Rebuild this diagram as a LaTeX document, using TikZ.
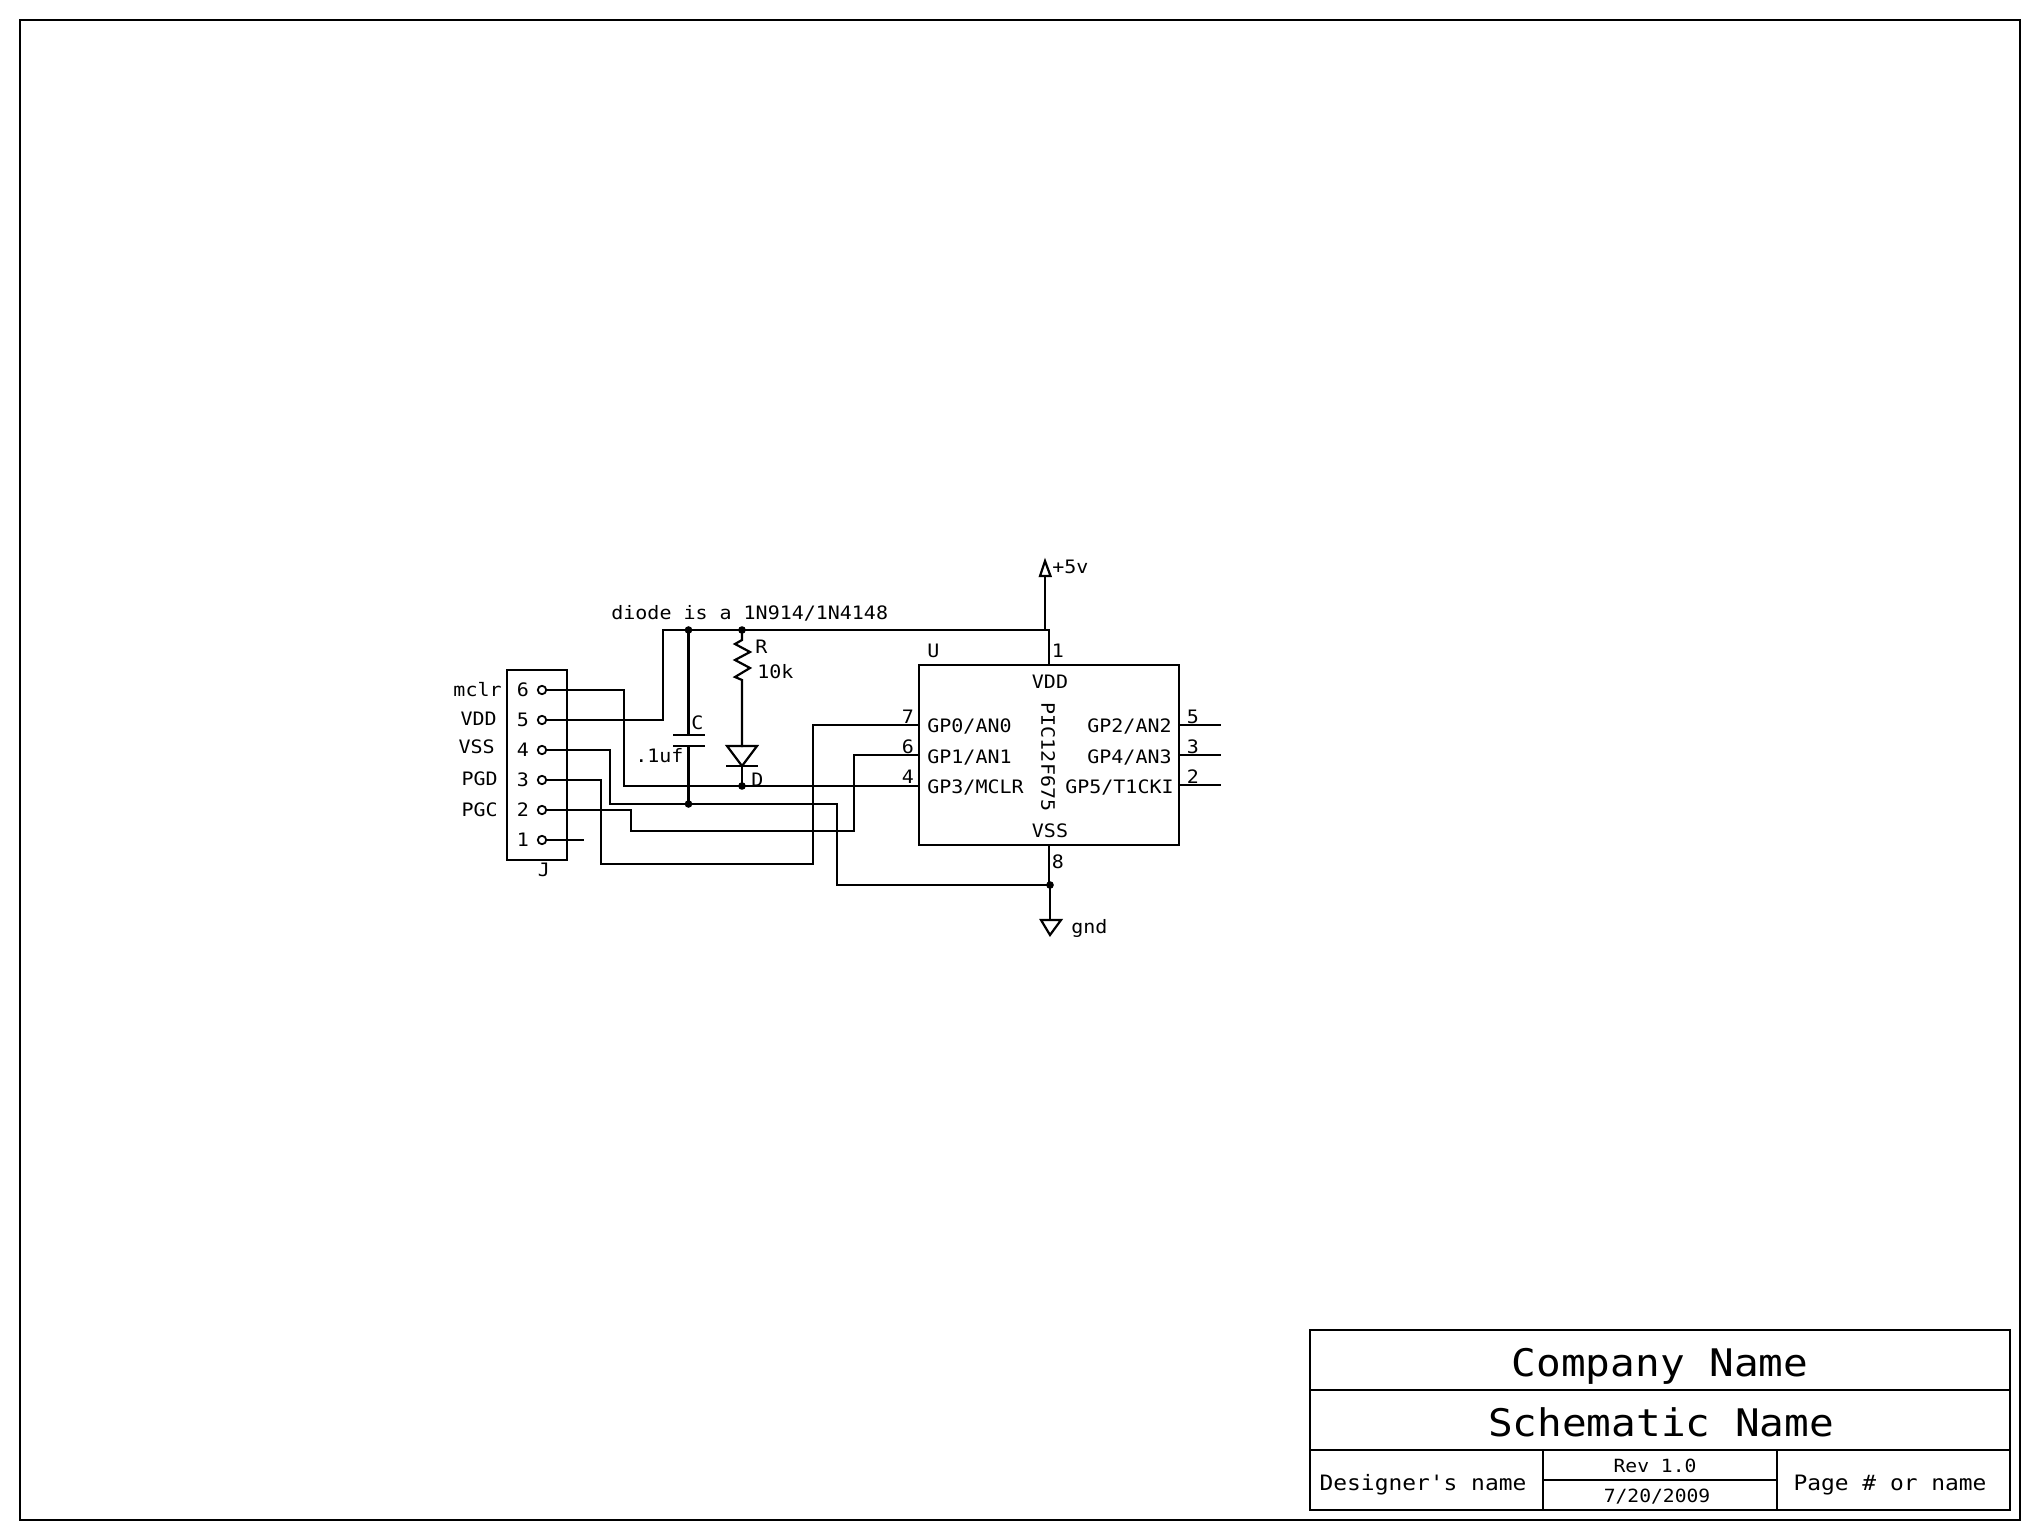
\documentclass[tikz,border=0pt]{standalone}
\usepackage{fontspec}
\setmainfont[FakeStretch=1.08]{DejaVu Sans Mono}
\newfontfamily\plainmono[FakeStretch=1.08]{DejaVu Sans Mono}
\tikzset{
  wire/.style={line width=1.1pt,line cap=rect,line join=miter},
  box/.style={draw,line width=1.1pt,inner sep=0pt,rectangle},
  frame/.style={draw,line width=1.15pt},
  pad/.style={circle,draw,line width=0.9pt,minimum size=4.2pt,inner sep=0pt},
  dotj/.style={circle,fill=black,minimum size=3.8pt,inner sep=0pt},
  txt/.style={inner sep=0pt,font=\fontsize{9.25}{12}\selectfont,anchor=base west},
  txtr/.style={txt,anchor=base east},
  txtc/.style={txt,anchor=base},
  small/.style={inner sep=0pt,font=\fontsize{9.1}{12}\selectfont,anchor=base},
  med/.style={inner sep=0pt,font=\fontsize{10.6}{14}\selectfont,anchor=base},
  big/.style={inner sep=0pt,font=\fontsize{19}{24}\selectfont,anchor=base},
}
\begin{document}
\begin{tikzpicture}[x=0.5pt,y=-0.5pt]
\useasboundingbox (0,0) rectangle (2040,1540);
% sheet frame
\draw[frame] (20,20) rectangle (2020,1520);
% title block
\draw[frame] (1310,1330) rectangle (2010,1510);
\coordinate (tL1) at (1310,1390); \coordinate (tR1) at (2010,1390);
\coordinate (tL2) at (1310,1450); \coordinate (tR2) at (2010,1450);
\coordinate (tA) at (1543,1450); \coordinate (tAb) at (1543,1510);
\coordinate (tB) at (1777,1450); \coordinate (tBb) at (1777,1510);
\coordinate (tMa) at (1543,1480); \coordinate (tMb) at (1777,1480);
\draw[frame] (tL1) -- (tR1);
\draw[frame] (tL2) -- (tR2);
\draw[frame] (tA) -- (tAb);
\draw[frame] (tB) -- (tBb);
\draw[frame] (tMa) -- (tMb);
\node[big] (company) at (1660,1376) {Company Name};
\node[big] (schem) at (1661,1436) {Schematic Name};
\node[med] (designer) at (1423,1490) {\plainmono Designer's name};
\node[med] (pagename) at (1890,1490) {Page \# or name};
\node[small] (rev) at (1655,1472) {Rev 1.0};
\node[small] (date) at (1657,1502) {7/20/2009};

% header J
\node[box,minimum width=30pt,minimum height=95pt] (J) at (537,765) {};
\node[txtc] (Jn) at (544,876) {J};
\foreach \n/\y/\b in {6/690/696,5/720/726,4/750/756,3/780/786,2/810/816,1/840/846}{
  \node[pad] (p\n) at (542,\y) {};
  \node[txtc] (pn\n) at (523,\b) {\n};
}
\node[txtr] (l6) at (502,696) {mclr};
\node[txtr] (l5) at (497,725) {VDD};
\node[txtr] (l4) at (495,753) {VSS};
\node[txtr] (l3) at (498,785) {PGD};
\node[txtr] (l2) at (498,816) {PGC};

% chip U
\node[box,minimum width=130pt,minimum height=90pt] (U) at (1049,755) {};
\node[txt] (Un) at (927,657) {U};
\node[txtc] (uvdd) at (1050,688) {VDD};
\node[txtc] (uvss) at (1050,837) {VSS};
\node[inner sep=0pt,font=\fontsize{9.25}{12}\selectfont,rotate=-90] (upic) at (1048,757) {PIC12F675};
\node[txt] (ug0) at (927,732) {GP0/AN0};
\node[txt] (ug1) at (927,763) {GP1/AN1};
\node[txt] (ug3) at (927,793) {GP3/MCLR};
\node[txtr] (ug2) at (1172,732) {GP2/AN2};
\node[txtr] (ug4) at (1172,763) {GP4/AN3};
\node[txtr] (ug5) at (1174,793) {GP5/T1CKI};
\node[txtc] (n1) at (1058,657) {1};
\node[txtc] (n8) at (1058,868) {8};
\node[txtc] (n7) at (908,723) {7};
\node[txtc] (n6) at (908,753) {6};
\node[txtc] (n4) at (908,783) {4};
\node[txtc] (n5) at (1193,723) {5};
\node[txtc] (n3) at (1193,753) {3};
\node[txtc] (n2) at (1193,783) {2};

% other labels
\node[txt] (note) at (611,619) {diode is a 1N914/1N4148};
\node[txt] (Rn) at (755,653) {R};
\node[txt] (Rv) at (757,678) {10k};
\node[txt] (Cn) at (691,729) {C};
\node[txt] (Cv) at (635,762) {.1uf};
\node[txt] (Dn) at (751,786) {D};
\node[txt] (v5) at (1052,573) {+5v};
\node[txt] (gndl) at (1071,933) {gnd};

% junctions
\node[dotj] (jc) at (688.5,630) {};
\node[dotj] (jr) at (742,630) {};
\node[dotj] (jd) at (742,786) {};
\node[dotj] (jg) at (688.5,804) {};
\node[dotj] (je) at (1050,885) {};

% pin anchors on U
\coordinate (u1) at (1049,665);
\coordinate (u8) at (1049,845);
\coordinate (u7) at (919,725);
\coordinate (u6) at (919,755);
\coordinate (u4) at (919,786);
\coordinate (u5) at (1179,725);
\coordinate (u3) at (1179,755);
\coordinate (u2) at (1179,785);
\coordinate (s5) at (1220,725);
\coordinate (s3) at (1220,755);
\coordinate (s2) at (1220,785);
\draw[wire] (u5) -- (s5);
\draw[wire] (u3) -- (s3);
\draw[wire] (u2) -- (s2);

% supply rail
\coordinate (railL) at (663,630);
\coordinate (railR) at (1049,630);
\coordinate (v5b) at (1045,576);
\coordinate (v5r) at (1045,630);
\draw[wire] (p5) -- (663,720) -- (railL) -- (railR) -- (u1);
\draw[wire] (v5r) -- (v5b);
\coordinate (v5t) at (1045,561);
\draw[wire] (1040,576) -- (v5t) -- (1050.5,576) -- cycle;

% mclr net
\draw[wire] (p6) -- (624,690) -- (624,786) -- (jd);
\draw[wire] (jd) -- (u4);

% ground net
\draw[wire] (p4) -- (610,750) -- (610,804) -- (837,804) -- (837,885) -- (je);
\draw[wire] (u8) -- (1049,885);
\coordinate (gt) at (1050,920);
\coordinate (ga) at (1050,935);
\draw[wire] (je) -- (gt);
\draw[wire] (1041,920) -- (1061,920) -- (ga) -- cycle;

% GP0 and GP1 nets
\draw[wire] (p3) -- (601,780) -- (601,864) -- (813,864) -- (813,725) -- (u7);
\draw[wire] (p2) -- (631,810) -- (631,831) -- (854,831) -- (854,755) -- (u6);
\coordinate (p1e) at (583,840);
\draw[wire] (p1) -- (p1e);

% capacitor
\coordinate (ct) at (688.5,735);
\coordinate (cb) at (688.5,746);
\draw[wire] (jc) -- (ct);
\draw[wire] (cb) -- (jg);
\draw[wire] (674,735) -- (704,735);
\draw[wire] (674,746) -- (704,746);

% resistor
\draw[wire,line join=miter] (jr) -- (742,640) -- (735,644) -- (750,652) -- (735,660) -- (750,668) -- (735,677) -- (742,680) -- (742,746);

% diode
\draw[wire] (727,746) -- (757,746) -- (742,766) -- cycle;
\draw[wire] (727,766) -- (757,766);
\draw[wire] (742,766) -- (jd);
\end{tikzpicture}
\end{document}
